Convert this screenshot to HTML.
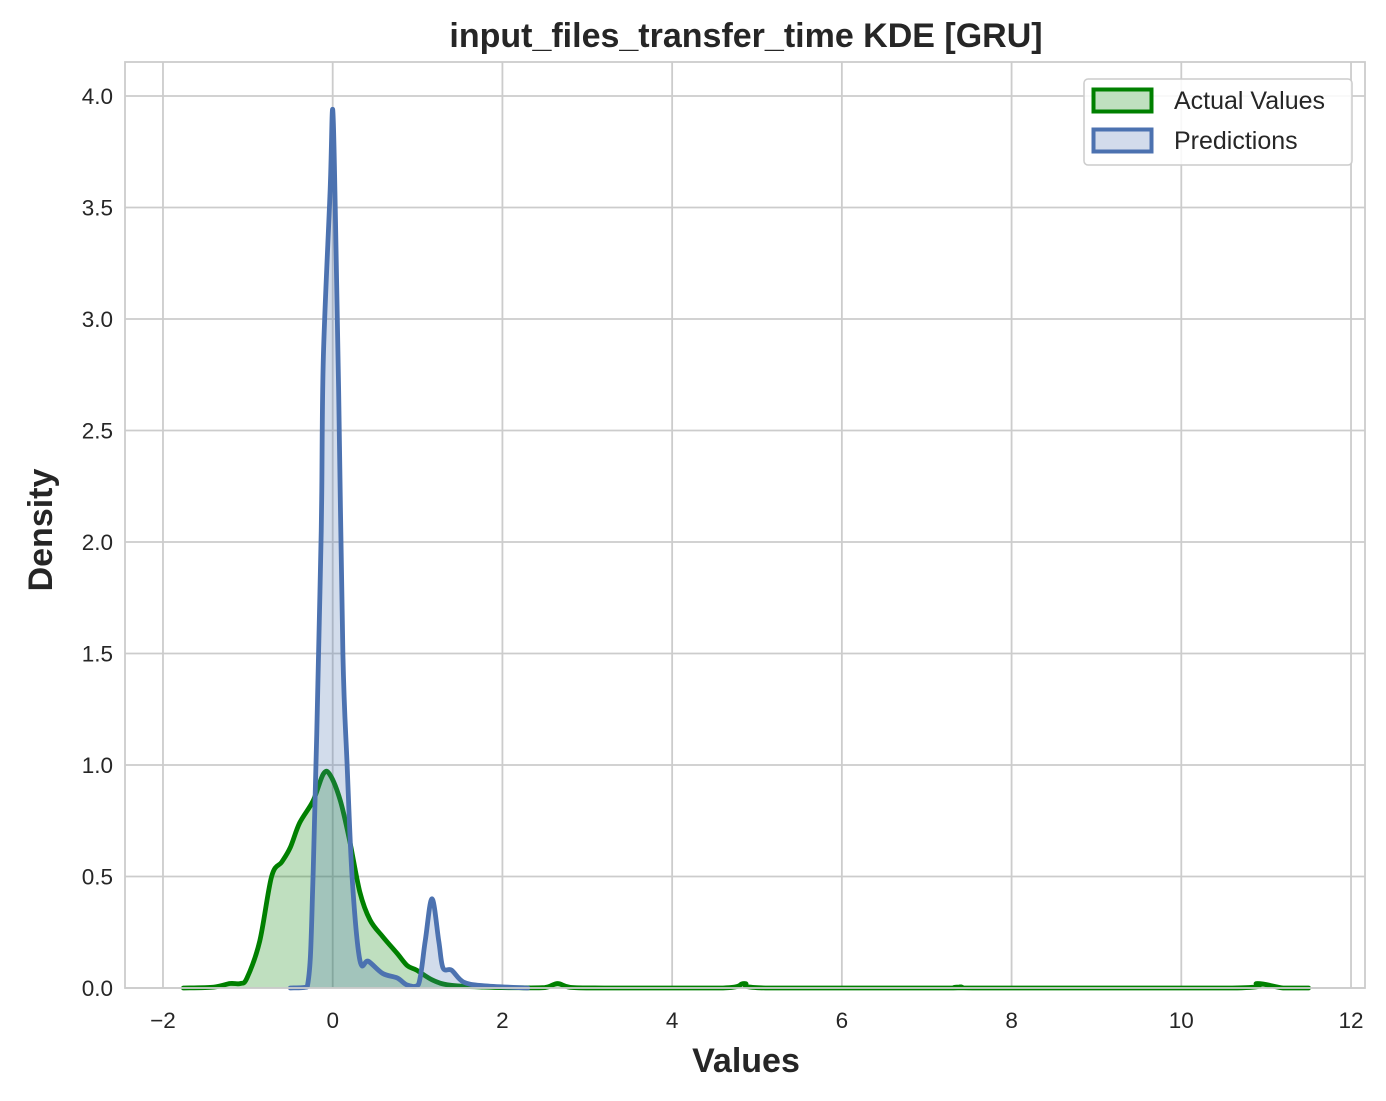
<!DOCTYPE html>
<html><head><meta charset="utf-8"><style>
body{margin:0;background:#fff;}
svg{display:block;font-family:"Liberation Sans",Arial,sans-serif;}
</style></head><body>
<svg id="chart" width="1386" height="1101" viewBox="0 0 1386 1101">
<rect x="0" y="0" width="1386" height="1101" fill="#fff"/>
<g id="grid"></g>
<g id="series"></g>
<g id="axes"></g>
<text x="746" y="47" text-anchor="middle" font-size="34" font-weight="bold" fill="#262626">input_files_transfer_time KDE [GRU]</text>
<text x="746" y="1072" text-anchor="middle" font-size="34" font-weight="bold" fill="#262626">Values</text>
<text x="52" y="530" text-anchor="middle" font-size="34" font-weight="bold" fill="#262626" transform="rotate(-90 52 530)">Density</text>
<g>
<rect x="1084" y="79" width="268" height="86" rx="4" fill="#fff" fill-opacity="0.85" stroke="#ccc" stroke-width="1.5"/>
<g>
<rect x="1093.5" y="89.5" width="58" height="22" fill="#bfe0bf" stroke="#008000" stroke-width="4"/>
<text x="1174" y="109" font-size="25" fill="#262626">Actual Values</text></g>
<g>
<rect x="1093.5" y="129.5" width="58" height="22" fill="#d2dbeb" stroke="#4c72b0" stroke-width="4"/>
<text x="1174" y="149" font-size="25" fill="#262626">Predictions</text></g>
</g>
</svg>
<script>
const xTicks=[-2,0,2,4,6,8,10,12];
const yTicks=[0,0.5,1.0,1.5,2.0,2.5,3.0,3.5,4.0];
const actualX=[-1.76,-1.4,-1.21,-1.09,-1.01,-0.86,-0.72,-0.60,-0.50,-0.39,-0.23,-0.11,-0.03,0.09,0.20,0.32,0.44,0.59,0.76,0.88,0.99,1.18,1.38,1.78,2.2,2.5,2.65,2.8,3.2,4.6,4.85,5.1,7.2,7.4,7.6,10.6,10.9,11.2,11.5];
const actualY=[0,0.004,0.02,0.02,0.045,0.21,0.50,0.565,0.63,0.74,0.84,0.96,0.955,0.84,0.66,0.43,0.305,0.23,0.155,0.10,0.08,0.035,0.013,0.004,0.001,0.002,0.02,0.003,0,0,0.02,0,0,0.005,0,0,0.02,0,0];
const predX=[-0.5,-0.30,-0.23,-0.15,-0.13,-0.11,-0.03,0.0,0.03,0.07,0.12,0.17,0.23,0.32,0.42,0.59,0.76,0.88,1.01,1.09,1.17,1.25,1.30,1.40,1.54,1.78,2.3];
const predY=[0,0.005,0.52,1.78,2.19,2.83,3.58,3.94,3.5,2.68,1.5,1.0,0.49,0.125,0.12,0.065,0.045,0.013,0.015,0.21,0.40,0.21,0.09,0.08,0.027,0.01,0];
const NS="http://www.w3.org/2000/svg";
const L=125,R=1365,T=62,B=988;
const sx=v=>332.7+v*84.86, sy=v=>988-v*223;
function mk(tag,attrs,parent){const e=document.createElementNS(NS,tag);for(const k in attrs)e.setAttribute(k,attrs[k]);parent.appendChild(e);return e;}
const grid=document.getElementById('grid'),axes=document.getElementById('axes'),ser=document.getElementById('series');
xTicks.forEach(t=>{
 const g=mk('line',{x1:sx(t),x2:sx(t),y1:T,y2:B,stroke:'#cccccc','stroke-width':1.8},grid);
 
 
 const tx=mk('text',{x:sx(t),y:1028,'text-anchor':'middle','font-size':22.5,fill:'#262626'},axes);
 tx.textContent=t<0?'\u2212'+Math.abs(t):String(t);
 
 
});
yTicks.forEach(t=>{
 const g=mk('line',{x1:L,x2:R,y1:sy(t),y2:sy(t),stroke:'#cccccc','stroke-width':1.8},grid);
 
 
 const tx=mk('text',{x:113,y:sy(t)+8,'text-anchor':'end','font-size':22.5,fill:'#262626'},axes);
 tx.textContent=t.toFixed(1);
 
 
});
const fr=mk('rect',{x:L,y:T,width:R-L,height:B-T,fill:'none',stroke:'#cccccc','stroke-width':1.8},axes);


function draw(xs,ys,color,fill,name){
 const pts=xs.map((x,i)=>[sx(x),sy(ys[i])]);
 let d='M'+pts[0][0]+','+pts[0][1];
 for(let i=0;i<pts.length-1;i++){
  const p0=pts[Math.max(0,i-1)],p1=pts[i],p2=pts[i+1],p3=pts[Math.min(pts.length-1,i+2)];
  const c1=[p1[0]+(p2[0]-p0[0])/6,p1[1]+(p2[1]-p0[1])/6],c2=[p2[0]-(p3[0]-p1[0])/6,p2[1]-(p3[1]-p1[1])/6];
  c1[1]=Math.min(c1[1],B);c2[1]=Math.min(c2[1],B);
  d+=' C'+c1+' '+c2+' '+p2;
 }
 const a=mk('path',{d:d+' L'+pts[pts.length-1][0]+','+B+' L'+pts[0][0]+','+B+'Z',fill:fill,stroke:'none'},ser);
 
 
 const l=mk('path',{d:d,fill:'none',stroke:color,'stroke-width':4.8,'stroke-linejoin':'round','stroke-linecap':'round'},ser);
 
 
}
draw(actualX,actualY,'#008000','rgba(0,128,0,0.25)','actual-kde');
draw(predX,predY,'#4c72b0','rgba(76,114,176,0.25)','predictions-kde');
</script>
</body></html>
